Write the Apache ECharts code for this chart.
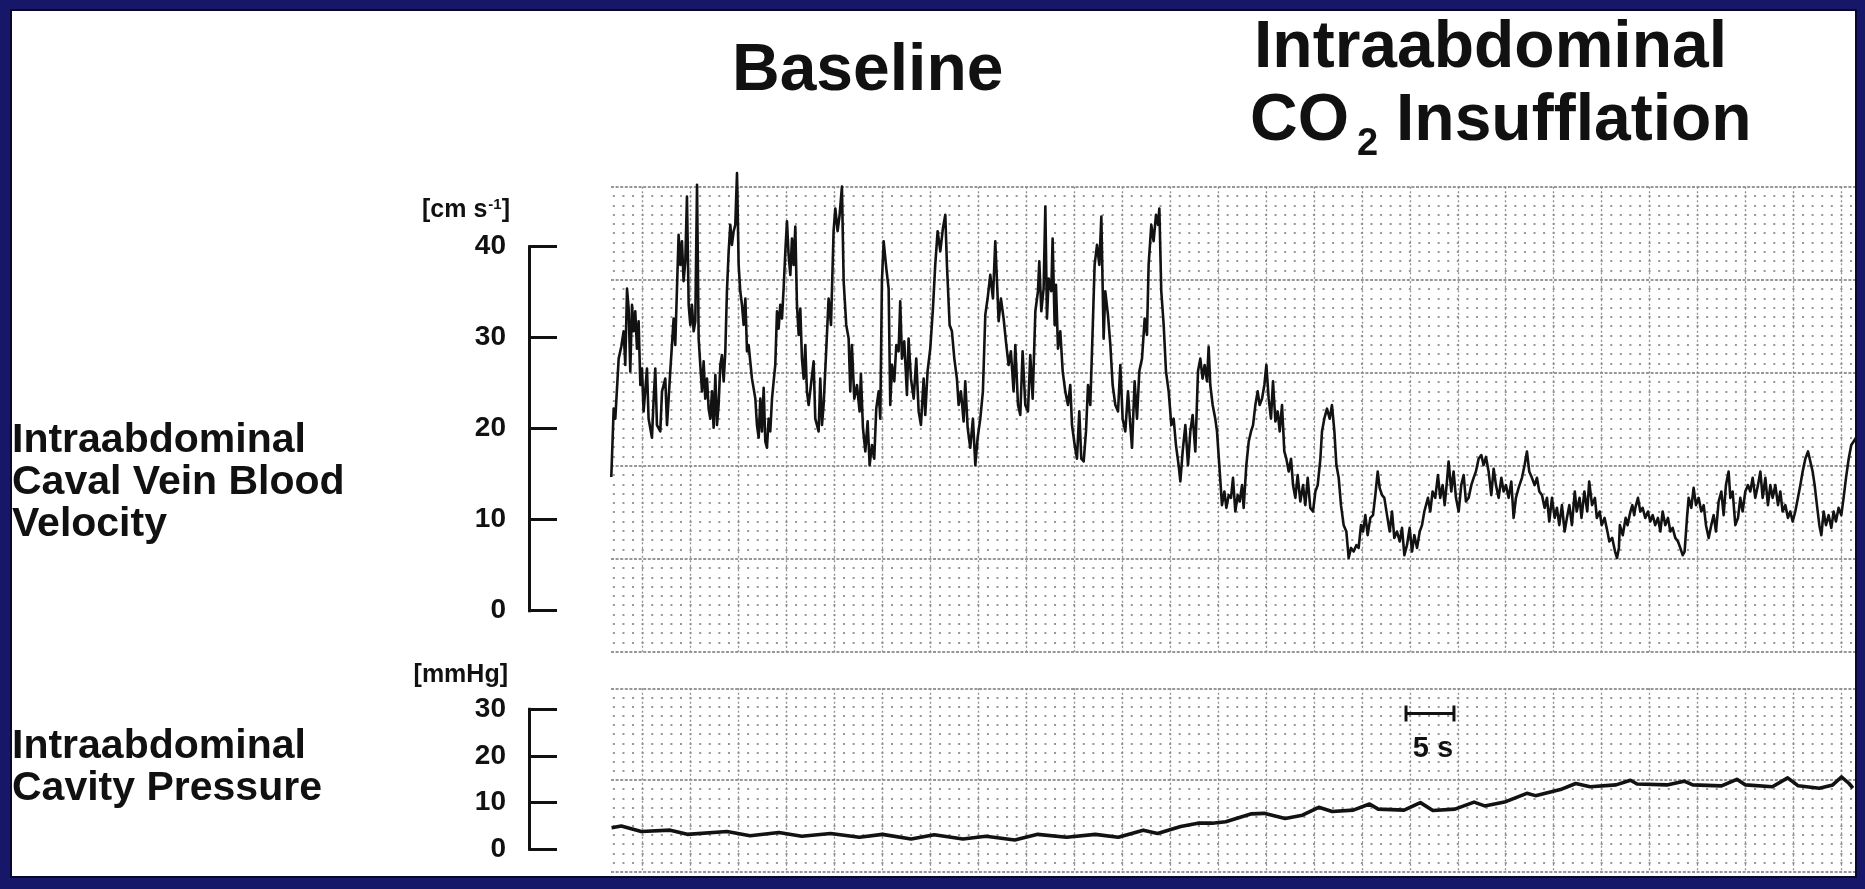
<!DOCTYPE html>
<html>
<head>
<meta charset="utf-8">
<script src="https://cdn.jsdelivr.net/npm/echarts@6/dist/echarts.min.js"></script>
<style>
html,body{margin:0;padding:0;width:1865px;height:889px;overflow:hidden;background:#ffffff;}
#chart{position:absolute;left:0;top:0;width:1865px;height:889px;}
#frame{position:absolute;left:0;top:0;width:1865px;height:889px;box-sizing:border-box;
  border-style:solid;border-color:#17176a;border-width:9px 8px 11px 10px;
  box-shadow:inset 0 0 0 2px #08082e;pointer-events:none;}
</style>
</head>
<body>
<div id="chart"></div>
<div id="frame"></div>
<script>
// ---------------- DATA (read from the recording) ----------------
// time in seconds from the left edge of the paper, velocity in cm s-1
const velocityBaseline = [
[0.03,14.7],[0.28,22.2],[0.45,21.1],[0.80,27.7],[1.07,29.0],[1.32,30.7],[1.49,27.0],[1.67,35.4],[1.84,33.2],[2.01,26.3],
[2.19,33.6],[2.36,30.7],[2.53,32.9],[2.71,28.8],[2.88,31.8],[3.06,24.8],[3.23,26.6],[3.40,21.9],[3.75,26.6],[3.92,21.1],
[4.27,19.0],[4.45,23.3],[4.62,26.6],[4.79,20.4],[5.14,19.7],[5.32,24.1],[5.66,25.5],[5.84,20.4],[6.01,23.3],[6.18,26.3],
[6.53,32.1],[6.70,29.2],[7.05,41.3],[7.23,38.0],[7.40,40.6],[7.57,36.2],[7.75,38.4],[7.92,45.5],[8.10,33.6],[8.27,31.4],
[8.44,33.6],[8.62,30.7],[8.79,31.8],[8.97,46.8],[9.14,29.9],[9.31,27.0],[9.49,24.1],[9.66,27.4],[9.83,23.3],[10.01,25.5],
[10.18,22.2],[10.36,21.1],[10.53,24.1],[10.70,20.1],[10.88,25.9],[11.05,20.4],[11.22,22.6],[11.40,27.0],[11.57,28.1],[11.75,25.2],
[11.92,28.5],[12.09,35.1],[12.27,39.5],[12.44,42.4],[12.61,40.2],[12.79,41.7],[12.96,42.4],[13.14,48.1],[13.31,38.0],[13.48,35.1],
[13.66,33.6],[13.83,31.4],[14.01,34.3],[14.18,28.5],[14.35,29.2],[14.70,25.5],[15.05,23.3],[15.22,20.4],[15.40,19.0],[15.57,23.3],
[15.74,19.7],[15.92,24.5],[16.09,18.6],[16.26,17.9],[16.44,21.1],[16.61,19.7],[16.79,23.3],[16.96,25.2],[17.13,27.0],[17.31,32.9],
[17.48,31.0],[17.65,33.6],[17.83,32.1],[18.00,35.4],[18.18,39.5],[18.35,42.8],[18.52,39.1],[18.70,36.9],[18.87,40.9],[19.04,38.0],
[19.22,42.2],[19.39,33.6],[19.57,30.3],[19.74,33.2],[19.91,27.7],[20.09,25.5],[20.26,29.2],[20.43,24.1],[20.61,22.6],
[21.13,27.4],[21.30,21.1],[21.65,19.7],[21.82,25.5],[22.00,20.4],[22.17,22.6],[22.45,28.8],[22.69,34.3],[22.94,31.4],[23.21,41.7],
[23.39,44.2],[23.63,41.7],[23.84,43.5],[24.08,46.6],[24.26,36.2],[24.53,31.4],[24.78,29.9],[24.95,24.1],[25.12,29.2],[25.37,23.3],
[25.65,24.8],[25.92,21.9],[26.06,26.0],[26.27,20.1],[26.52,17.5],[26.76,20.8],[26.97,16.0],[27.21,18.2],[27.45,16.7],[27.66,22.2],
[27.91,24.1],[28.08,21.1],[28.25,36.2],[28.43,40.6],[28.71,37.6],[28.95,35.4],[29.12,22.6],[29.30,27.0],[29.54,25.2],[29.75,29.2],
[29.99,28.5],[30.16,34.0],[30.34,27.7],[30.58,29.6],[30.86,23.7],[31.03,29.9],[31.28,25.5],[31.56,23.3],[31.83,27.7],[32.08,21.9],
[32.32,20.4],[32.60,25.5],[32.77,21.5],[33.01,26.3],[33.29,28.8],[33.57,33.2],[33.81,38.0],[34.06,41.7],[34.34,39.5],[34.61,42.0],
[34.86,43.5],[35.03,38.0],[35.31,31.4],[35.55,30.7],[35.80,27.7],[36.07,25.5],[36.25,22.6],[36.49,24.1],[36.77,20.8],[36.94,25.2],
[37.19,20.1],[37.46,17.9],[37.74,21.1],[37.99,16.0],[38.23,19.0],[38.51,21.1],[38.78,24.1],[39.03,32.5],[39.27,34.3],[39.55,36.9],
[39.83,34.3],[40.07,40.6],[40.25,36.2],[40.42,31.8],[40.66,34.3],[40.94,32.1],[41.22,29.2],[41.46,27.0],[41.70,28.5],[41.98,24.1],
[42.16,29.2],[42.44,22.6],[42.68,21.5],[42.92,28.5],[43.20,22.6],[43.48,21.9],[43.72,28.1],[43.97,23.3],[44.25,32.9],[44.52,35.1],
[44.66,38.4],[44.87,32.9],[45.11,35.4],[45.29,44.4],[45.46,32.1],[45.64,36.5],[45.91,35.1],[46.05,40.9],[46.26,31.4],[46.40,35.8],
[46.61,28.8],[46.85,30.7],[47.10,26.3],[47.37,24.1],[47.65,22.6],[47.89,24.8],[48.07,20.4],[48.35,18.2],[48.59,16.7],[48.83,21.9],
[49.04,16.7],[49.29,16.4],[49.53,19.7],[49.74,24.8],[49.98,22.6],[50.22,30.7],[50.43,38.0],[50.68,40.2],[50.92,38.0],[51.13,43.3],
[51.37,29.9],[51.54,35.1],[51.82,32.5],[52.07,29.2],[52.31,24.8],[52.59,22.6],[52.87,21.9],[53.11,27.0],[53.35,21.1],[53.63,19.7],
[53.91,24.1],[54.15,20.4],[54.33,17.9],[54.60,25.2],[54.85,21.1],[55.09,26.3],[55.37,27.7],[55.65,32.1],[55.89,30.3],[56.06,38.0],
[56.34,42.4],[56.58,40.6],[56.83,43.5],[57.04,42.4],[57.18,44.2],[57.38,35.1],[57.63,31.4],[57.87,26.3],[58.15,24.1],[58.43,20.4],
[58.67,21.1],[58.91,18.2],[59.19,16.0],[59.37,14.2],[59.61,17.5],[59.89,20.4],[60.17,16.0],[60.41,19.7],[60.65,21.5],[60.93,17.5],
[61.21,26.3],[61.45,27.7],[61.69,25.5],[61.90,27.0],[62.15,25.2],[62.32,29.0],[62.49,24.8],[62.74,22.6],[63.01,21.1],[63.19,19.7],
[63.43,16.0]
];
const velocityInsufflation = [
[63.71,11.6],[63.96,13.1],[64.17,11.3],[64.41,12.7],[64.65,12.4],[64.86,14.6],[65.10,10.9],[65.35,12.7],[65.56,12.0],[65.80,13.8],
[65.97,11.3],[66.25,16.0],[66.50,18.6],[66.74,19.7],[66.95,20.4],[67.19,22.6],[67.43,24.1],[67.64,22.6],[67.89,23.3],[68.13,24.8],
[68.34,27.0],[68.58,23.3],[68.82,21.1],[69.03,25.2],[69.28,20.8],[69.52,21.9],[69.73,19.7],[69.97,22.6],[70.21,17.5],[70.42,16.7],
[70.67,15.3],[70.91,16.7],[71.12,13.8],[71.36,12.4],[71.60,14.9],[71.88,12.0],[72.16,13.8],[72.40,11.6],[72.65,14.6],[72.92,11.3],
[73.20,10.9],[73.45,13.1],[73.69,13.8],[73.97,16.7],[74.14,19.7],[74.38,21.1],[74.66,22.2],[74.94,21.1],[75.18,22.6],[75.43,19.7],
[75.64,16.0],[75.88,14.6],[76.12,11.6],[76.40,9.4],[76.68,8.7],[76.92,5.8],[77.17,6.9],[77.44,6.5],[77.72,7.2],[77.96,6.9],
[78.21,9.4],[78.42,8.7],[78.66,10.5],[78.90,8.3],[79.18,10.2],[79.46,10.5],[79.70,12.7],[79.95,15.3],[80.15,13.5],[80.40,12.7],
[80.64,12.4],[80.92,10.5],[81.20,8.7],[81.44,10.9],[81.68,8.0],[81.96,8.7],[82.24,7.6],[82.48,9.1],[82.73,6.1],[83.00,7.2],
[83.28,9.1],[83.53,6.5],[83.77,8.3],[84.05,6.9],[84.33,8.7],[84.57,9.4],[84.81,10.9],
[85.19,12.4],[85.43,10.9],[85.67,13.1],[85.95,12.4],[86.23,14.9],[86.47,12.4],[86.72,13.8],[86.93,11.6],[87.17,14.2],[87.34,16.4],
[87.62,13.1],[87.86,15.3],[88.11,12.4],[88.39,10.9],[88.66,13.8],[88.91,14.9],[89.15,12.0],[89.43,12.4],[89.71,13.8],[89.95,14.6],
[90.19,15.3],[90.47,16.7],[90.75,17.1],[90.99,16.0],[91.24,16.9],[91.51,15.3],[91.79,12.7],[92.04,15.6],[92.28,13.8],[92.56,12.4],
[92.84,14.6],[93.08,13.1],[93.32,13.8],[93.60,12.4],[93.88,14.2],[94.12,10.2],[94.36,12.4],[94.64,13.5],[94.99,14.6],[95.27,16.0],
[95.51,17.5],[95.75,15.3],[96.03,14.6],[96.31,13.8],[96.55,14.6],[96.80,13.1],[97.08,12.7],[97.35,11.3],[97.60,12.4],[97.84,9.8],
[98.12,12.4],[98.40,10.2],[98.64,11.3],[98.88,9.4],[99.16,11.6],[99.44,8.7],[99.68,10.2],[99.93,11.6],[100.2,9.4],[100.5,13.1],
[100.7,10.9],[101.0,12.4],[101.2,10.2],[101.5,13.1],[101.8,10.9],[102.0,14.2],[102.3,11.6],[102.6,12.4],[102.8,10.2],[103.1,10.9],
[103.3,9.4],[103.6,10.2],[103.9,8.7],[104.1,7.6],[104.4,8.0],[104.7,6.5],[104.9,5.8],[105.1,6.9],[105.2,9.4],[105.5,8.3],
[105.8,10.2],[106.0,9.4],[106.3,10.9],[106.5,11.6],[106.7,10.5],
[106.81,11.3],[107.09,12.4],[107.33,10.9],[107.57,11.3],[107.85,10.2],[108.13,10.9],[108.37,9.8],[108.62,10.5],[108.89,9.4],[109.17,10.2],
[109.42,8.7],[109.66,10.9],[109.94,9.4],[110.22,10.2],[110.46,8.7],[110.70,9.1],[110.98,8.0],[111.26,7.6],[111.50,6.9],[111.75,6.1],
[111.95,6.5],[112.20,10.2],[112.37,12.4],[112.65,11.3],[112.89,13.5],[113.14,11.6],[113.41,12.4],[113.69,10.9],[113.94,11.6],[114.18,9.4],
[114.46,8.0],[114.73,9.4],[114.98,10.5],[115.22,8.7],[115.50,12.0],[115.78,13.1],[116.02,10.5],[116.26,13.8],[116.54,15.3],[116.72,12.4],
[116.96,13.1],[117.24,9.4],[117.52,10.2],[117.76,12.4],[118.00,10.9],[118.28,13.1],[118.56,13.8],[118.80,13.1],[119.05,14.6],[119.32,12.4],
[119.60,13.8],[119.85,15.3],[120.09,12.4],[120.37,14.6],[120.64,11.6],[120.89,13.8],[121.13,12.4],[121.41,13.8],[121.69,11.6],[121.93,13.1],
[122.17,10.9],[122.45,11.6],[122.73,10.2],[122.97,10.9],[123.22,9.8],[123.49,10.9],[123.77,12.4],[124.02,13.8],[124.26,15.3],[124.54,16.7],
[124.82,17.5],[125.06,16.4],[125.30,15.3],[125.51,13.8],[125.75,11.6],[126.00,9.4],[126.21,8.3],[126.45,10.9],[126.69,9.4],[126.97,10.5],
[127.25,9.1],[127.49,10.9],[127.73,9.8],[128.01,11.3],[128.29,10.5],[128.53,12.4],[128.78,14.6],[129.06,16.7],[129.33,18.2],[129.58,18.6],
[129.82,19.0]
];
// intraabdominal cavity pressure, mmHg
const pressureTrace = [
[0.06,4.6],[1.07,5.0],[3.16,3.8],[6.18,4.1],[7.96,3.2],[12.1,3.8],[14.5,2.9],[17.5,3.6],[19.9,2.8],[22.9,3.4],
[25.9,2.6],[28.3,3.2],[31.3,2.2],[33.7,3.1],[36.7,2.2],[39.1,2.8],[42.1,2.0],[44.5,3.2],[47.5,2.6],[50.5,3.2],
[52.9,2.6],[55.5,4.1],[57.0,3.4],[59.4,4.9],[61.2,5.6],[62.7,5.6],[64.1,5.9],[66.8,7.6],[68.1,7.7],[70.3,6.6],
[72.1,7.3],[73.8,9.0],[75.2,8.1],[77.4,8.4],[79.1,9.7],[80.0,8.6],[82.7,8.4],[84.4,10.0],[85.7,8.3],[88.0,8.6],
[90.0,10.1],[91.1,9.3],[93.3,10.2],[95.5,12.0],[96.4,11.5],[99.0,12.8],[100.6,14.1],[102.1,13.4],[104.8,13.8],[106.3,14.8],
[107.0,14.0],[110.1,13.8],[111.9,14.6],[112.8,13.8],[115.8,13.6],[117.4,15.0],[118.3,13.8],[121.1,13.4],[122.7,15.3],[123.8,13.6],
[126.0,13.1],[127.4,13.8],[128.3,15.5],[129.1,14.1],[129.5,13.1]
];
const velocityTicks = [0, 40, 10];      // min, max, step of the cm s-1 scale
const pressureTicks = [0, 30, 10];      // min, max, step of the mmHg scale
const scaleBar = [82.9, 5, 29.1];       // start (s), length (s), level (mmHg)
const timeSpan = 130;                   // seconds of recording shown

// ---------------- LAYOUT / STYLE ----------------
const FONT = "'Liberation Sans', Arial, Helvetica, sans-serif";
const INK = '#111111';
const PX_PER_S = 9.59;
const G_LEFT = 611;
const G_W = timeSpan * PX_PER_S;
const PAPER_SHIFT = 3.3;  // first heavy vertical line, seconds from the paper edge
const DOT_OFF = PX_PER_S - ((PAPER_SHIFT * PX_PER_S) % PX_PER_S - 1);

const upper = {top: 186.7, height: 465};
const lower = {top: 688.3, height: 183.4};
const velRange = [-4.505, 46.59];
const presRange = [-4.8, 34.5];

const chart = echarts.init(document.getElementById('chart'), null, {renderer: 'canvas'});

function paperX(gridIndex) {
  return {
    type: 'value', gridIndex, min: -PAPER_SHIFT, max: timeSpan - PAPER_SHIFT, splitNumber: 26,
    axisLine: {show: false}, axisTick: {show: false}, axisLabel: {show: false},
    splitLine: {show: true, showMinLine: false, showMaxLine: false,
      lineStyle: {color: '#8f8f8f', width: 1.3, type: [2, 2.5]}},
    minorSplitLine: {show: false}
  };
}
function paperY(gridIndex, divisions) {
  return {
    type: 'value', gridIndex, min: 0, max: divisions, interval: 1,
    axisLine: {show: false}, axisTick: {show: false}, axisLabel: {show: false},
    splitLine: {show: true, lineStyle: {color: '#767676', width: 1.7, type: [3, 1.6]}},
    minorTick: {show: false, splitNumber: 10},
    minorSplitLine: {show: true, lineStyle: {color: '#979797', width: 2.2,
      type: [2, PX_PER_S - 2], dashOffset: DOT_OFF}}
  };
}
function dataX(gridIndex) {
  return {type: 'value', gridIndex, min: 0, max: timeSpan, show: false};
}
function bracketY(gridIndex, ticks) {
  return {
    type: 'value', gridIndex, min: ticks[0], max: ticks[1], interval: ticks[2], position: 'left',
    axisLine: {show: true, onZero: false, lineStyle: {color: INK, width: 3, cap: 'square'}},
    axisTick: {show: true, inside: true, length: 28, lineStyle: {color: INK, width: 3}},
    axisLabel: {show: true, margin: 23, color: INK, fontSize: 28, fontWeight: 'bold', fontFamily: FONT},
    splitLine: {show: false}
  };
}

function txt(text, x, y, size, align) {
  return {type: 'text', x, y, silent: true,
    style: {text, fill: INK, fontSize: size, fontWeight: 'bold', fontFamily: FONT,
      align: align || 'left', verticalAlign: 'middle',
      textAlign: align || 'left', textVerticalAlign: 'middle'}};
}

const option = {
  animation: false,
  backgroundColor: '#ffffff',
  grid: [
    {left: G_LEFT, top: upper.top, width: G_W, height: upper.height, containLabel: false, outerBoundsMode: 'none'},
    {left: G_LEFT, top: lower.top, width: G_W, height: lower.height, containLabel: false, outerBoundsMode: 'none'},
    {left: 529, top: 246.7, width: 40, height: 364, containLabel: false, outerBoundsMode: 'none'},
    {left: 529, top: 709.3, width: 40, height: 140, containLabel: false, outerBoundsMode: 'none'}
  ],
  xAxis: [
    dataX(0), paperX(0), dataX(1), paperX(1),
    {type: 'value', gridIndex: 2, min: 0, max: 1, show: false},
    {type: 'value', gridIndex: 3, min: 0, max: 1, show: false}
  ],
  yAxis: [
    {type: 'value', gridIndex: 0, min: velRange[0], max: velRange[1], show: false},
    paperY(0, 5),
    {type: 'value', gridIndex: 1, min: presRange[0], max: presRange[1], show: false},
    paperY(1, 2),
    bracketY(2, velocityTicks),
    bracketY(3, pressureTicks)
  ],
  series: [
    {type: 'line', name: 'velocity', xAxisIndex: 0, yAxisIndex: 0,
      data: velocityBaseline.concat(velocityInsufflation),
      showSymbol: false, symbol: 'none', clip: false, silent: true, z: 5,
      lineStyle: {color: '#121212', width: 2.6, join: 'round'}},
    {type: 'line', name: 'pressure', xAxisIndex: 2, yAxisIndex: 2,
      data: pressureTrace, showSymbol: false, symbol: 'none', silent: true, z: 5,
      lineStyle: {color: '#121212', width: 3.6, join: 'round'}},
    {type: 'line', name: 'scalebar', xAxisIndex: 2, yAxisIndex: 2,
      data: [[scaleBar[0], scaleBar[2]], [scaleBar[0] + scaleBar[1], scaleBar[2]]],
      symbol: 'rect', symbolSize: [3, 16], showSymbol: true, silent: true, z: 6,
      itemStyle: {color: INK}, lineStyle: {color: INK, width: 3}}
  ],
  graphic: [
    txt('Baseline', 732, 72, 66),
    txt('Intraabdominal', 1254, 49, 66),
    txt('CO', 1250, 121.5, 66),
    txt('2', 1357, 145, 38),
    txt('Insufflation', 1396, 121.5, 66),
    txt('Intraabdominal', 12, 441, 41),
    txt('Caval Vein Blood', 12, 482.7, 41),
    txt('Velocity', 12, 524.3, 41),
    txt('Intraabdominal', 12, 747, 41),
    txt('Cavity Pressure', 12, 788.6, 41),
    txt('[mmHg]', 508, 675, 25, 'right'),
    txt('5 s', 1433, 749, 29, 'center'),
    {type: 'text', x: 510, y: 210.5, silent: true,
      style: {text: '{a|[cm s}{b|-1}{a|]}', align: 'right', verticalAlign: 'middle',
        textAlign: 'right', textVerticalAlign: 'middle',
        rich: {
          a: {fill: INK, color: INK, fontSize: 25, fontWeight: 'bold', fontFamily: FONT, lineHeight: 29},
          b: {fill: INK, color: INK, fontSize: 15, fontWeight: 'bold', fontFamily: FONT, lineHeight: 29,
              verticalAlign: 'top', padding: [1, 0, 0, 1]}
        }}}
  ]
};
chart.setOption(option);
</script>
</body>
</html>
